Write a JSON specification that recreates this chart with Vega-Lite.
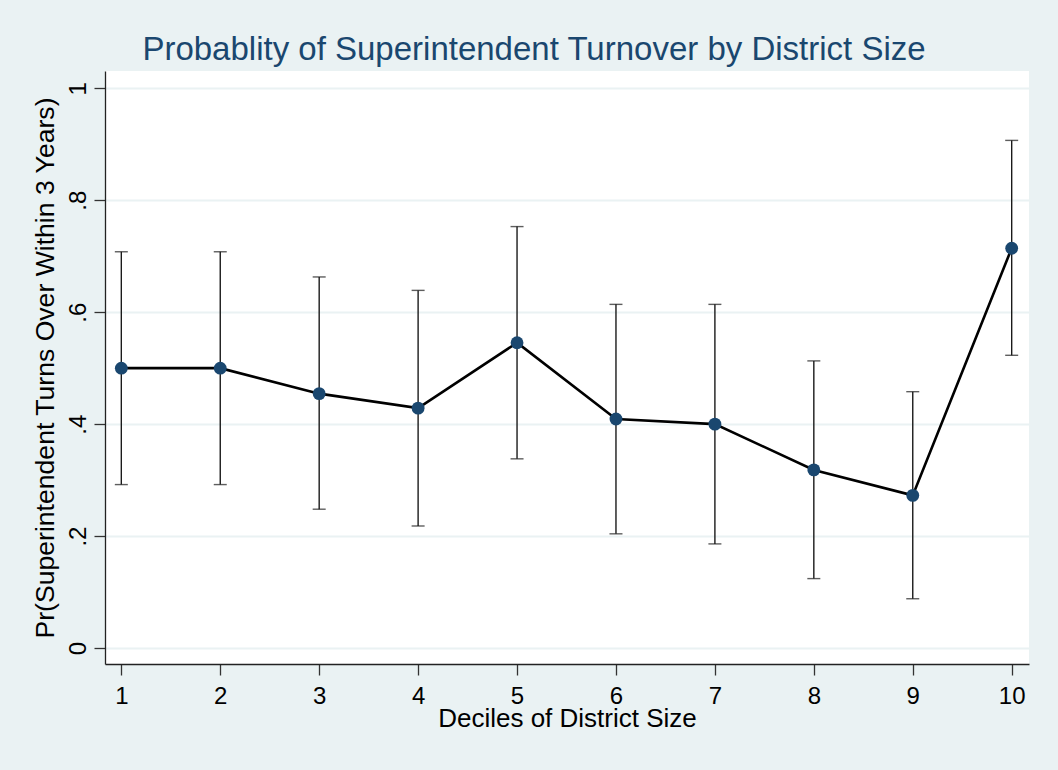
{
  "$schema": "https://vega.github.io/schema/vega-lite/v6.json",
  "width": 924,
  "height": 593,
  "autosize": {"type": "none"},
  "padding": {"left": 105, "top": 71, "right": 29, "bottom": 106},
  "background": "#EAF2F3",
  "title": {
    "text": "Probablity of Superintendent Turnover by District Size",
    "font": "Liberation Sans",
    "fontSize": 33,
    "fontWeight": "normal",
    "color": "#1A476F",
    "anchor": "middle",
    "frame": "group",
    "dx": -33,
    "offset": -22,
    "baseline": "alphabetic"
  },
  "config": {
    "view": {"fill": "white", "stroke": null},
    "font": "Liberation Sans"
  },
  "data": {
    "values": [
      {"decile": 1, "p": 0.5, "lo": 0.292, "hi": 0.708},
      {"decile": 2, "p": 0.5, "lo": 0.292, "hi": 0.708},
      {"decile": 3, "p": 0.4545, "lo": 0.248, "hi": 0.663},
      {"decile": 4, "p": 0.4286, "lo": 0.218, "hi": 0.639},
      {"decile": 5, "p": 0.5455, "lo": 0.338, "hi": 0.753},
      {"decile": 6, "p": 0.4091, "lo": 0.204, "hi": 0.614},
      {"decile": 7, "p": 0.4, "lo": 0.186, "hi": 0.614},
      {"decile": 8, "p": 0.3182, "lo": 0.124, "hi": 0.513},
      {"decile": 9, "p": 0.2727, "lo": 0.088, "hi": 0.458},
      {"decile": 10, "p": 0.7143, "lo": 0.523, "hi": 0.907}
    ]
  },
  "encoding": {
    "x": {
      "field": "decile",
      "type": "quantitative",
      "scale": {"domain": [0.835, 10.175], "nice": false, "zero": false},
      "axis": {
        "title": "Deciles of District Size",
        "values": [1, 2, 3, 4, 5, 6, 7, 8, 9, 10],
        "format": "d",
        "grid": false,
        "domainColor": "#222222",
        "domainWidth": 1.3,
        "tickColor": "#333333",
        "tickWidth": 1.3,
        "tickSize": 11,
        "labelFont": "Liberation Sans",
        "labelFontSize": 24,
        "labelColor": "#000000",
        "labelBaseline": "alphabetic",
        "labelPadding": 28,
        "titleFont": "Liberation Sans",
        "titleFontSize": 26,
        "titleFontWeight": "normal",
        "titleColor": "#000000",
        "titleBaseline": "alphabetic",
        "titleY": 62
      }
    }
  },
  "layer": [
    {
      "mark": {
        "type": "errorbar",
        "color": "#1a1a1a",
        "thickness": 1.4,
        "ticks": {"size": 13, "thickness": 1.4, "color": "#1a1a1a"}
      },
      "encoding": {
        "y": {
          "field": "lo",
          "type": "quantitative",
          "scale": {"domain": [-0.0286, 1.031], "nice": false, "zero": false},
          "axis": {
            "title": "Pr(Superintendent Turns Over Within 3 Years)",
            "values": [0, 0.2, 0.4, 0.6, 0.8, 1],
            "labelExpr": "datum.value == 0 ? '0' : datum.value == 1 ? '1' : replace(format(datum.value, '.1f'), '0.', '.')",
            "grid": true,
            "gridColor": "#EAF2F3",
            "gridWidth": 2,
            "domainColor": "#222222",
            "domainWidth": 1.3,
            "tickColor": "#333333",
            "tickWidth": 1.3,
            "tickSize": 11,
            "labelFont": "Liberation Sans",
            "labelFontSize": 24,
            "labelColor": "#000000",
            "labelAngle": -90,
            "labelAlign": "center",
            "labelBaseline": "alphabetic",
            "labelPadding": 9,
            "titleFont": "Liberation Sans",
            "titleFontSize": 26.6,
            "titleFontWeight": "normal",
            "titleColor": "#000000",
            "titleAngle": -90,
            "titleAlign": "center",
            "titleBaseline": "alphabetic",
            "titleX": -52,
            "titleY": 296.5
          }
        },
        "y2": {"field": "hi"}
      }
    },
    {
      "mark": {"type": "line", "color": "#000000", "strokeWidth": 2.6},
      "encoding": {
        "y": {"field": "p", "type": "quantitative"}
      }
    },
    {
      "mark": {"type": "circle", "color": "#1A476F", "opacity": 1, "size": 165},
      "encoding": {
        "y": {"field": "p", "type": "quantitative"}
      }
    }
  ]
}
